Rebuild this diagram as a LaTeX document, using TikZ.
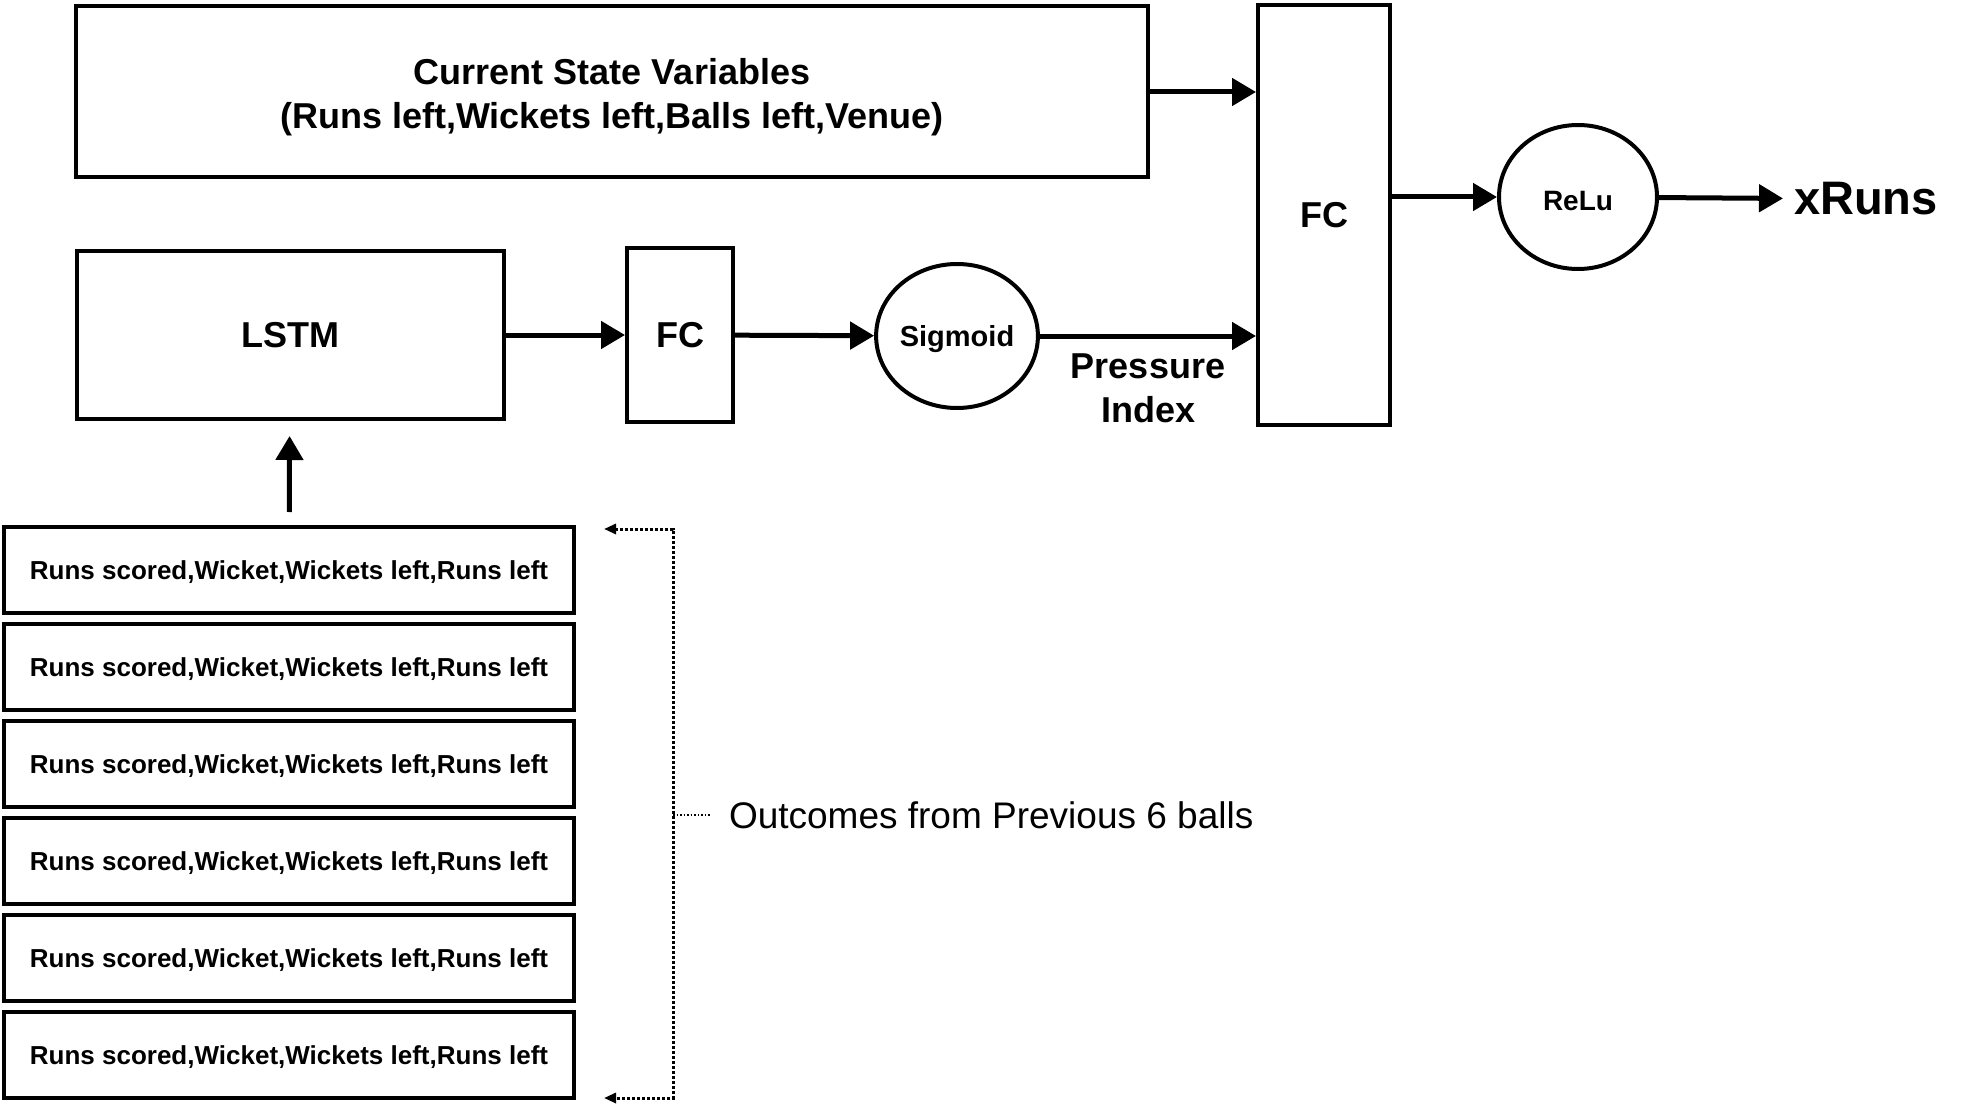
\documentclass[tikz,border=0pt]{standalone}
\usepackage{fontspec}
\setmainfont{Liberation Sans}
\usetikzlibrary{arrows.meta, shapes.geometric}

\begin{document}
\begin{tikzpicture}[x=1pt, y=-1pt, align=center, line width=4pt,
  box/.style={draw, rectangle, inner sep=0pt},
  oval/.style={draw, ellipse, inner sep=0pt, text depth=0pt, minimum width=158, minimum height=144},
  big/.style={font=\fontsize{36}{44}\selectfont\bfseries},
  arr/.style={line width=5pt, -{Triangle[length=24pt, width=27pt]}},
  dots/.style={line width=3pt, dotted, {Triangle[length=12pt, width=10pt]}-{Triangle[length=12pt, width=10pt]}}]
\useasboundingbox (0,0) rectangle (1965,1107);

\node[box, minimum width=1072, minimum height=171] (state) at (612,92) {};
\node[big, inner sep=0pt] (statetxt) at ([yshift=-5pt]state.center)
  {Current State Variables \\ (Runs left,Wickets left,Balls left,Venue)};
\node[box, big, minimum width=132, minimum height=419] (fc2) at (1324,215) {FC};
\node[oval, text height=27pt, font=\fontsize{28}{34}\selectfont\bfseries] (relu) at (1578,197) {ReLu};
\node[font=\fontsize{47}{56}\selectfont\bfseries, anchor=west, inner sep=0pt] (out) at (1792,199) {xRuns};
\node[box, big, minimum width=427, minimum height=168] (lstm) at (290,335) {LSTM};
\node[box, big, minimum width=106, minimum height=173] (fc1) at (680,335) {FC};
\node[oval, minimum width=160, font=\fontsize{29}{34}\selectfont\bfseries] (sig) at (957,336) {Sigmoid};
\node[big, inner sep=0pt] (pi) at (1148,388) {Pressure \\ Index};

\foreach \i in {1,...,6}
  \node[box, minimum width=570, minimum height=86, text depth=0pt, font=\fontsize{26}{30}\selectfont\bfseries]
    (b\i) at (289,473+97*\i) {Runs scored,Wicket,Wickets left,Runs left};

\coordinate (ta) at (604,529);
\coordinate (top) at (673,529);
\coordinate (bot) at (673,1098);
\coordinate (ba) at (604,1098);
\coordinate (mid) at (673,815);
\coordinate (midr) at (711,815);
\node[font=\fontsize{37}{44}\selectfont, anchor=west, inner sep=0pt] (note) at (727,815)
  {Outcomes from Previous 6 balls};

\path[arr] (state.east) edge (state.east -| fc2.west)
  (lstm) edge (fc1)
  (fc1) edge (sig)
  (sig) edge (sig -| fc2.west)
  (fc2.east |- relu) edge (relu)
  (relu) edge[shorten >=9pt] (out);
\draw[arr, shorten <=13pt, shorten >=15pt] (b1) -- (lstm);

\draw[dots] (ta) -- (top) -- (bot) -- (ba);
\draw[line width=1.5pt, dotted] (mid) -- (midr);
\end{tikzpicture}
\end{document}
